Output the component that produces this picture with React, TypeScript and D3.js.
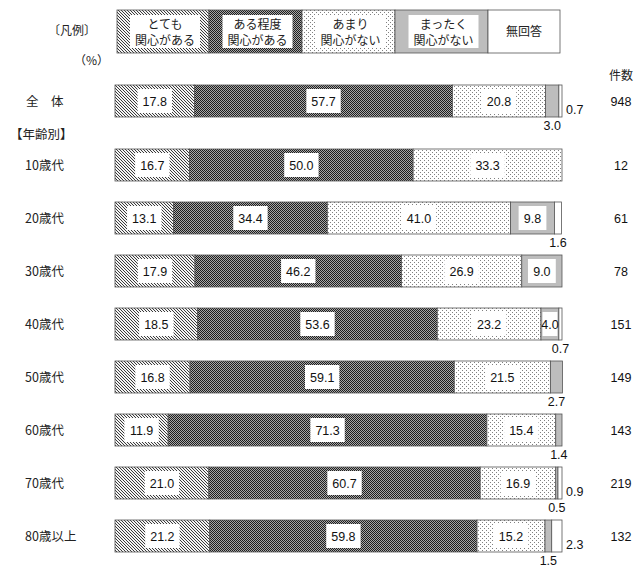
import React from "react";
import * as d3 from "d3";

const categories = ["全　体", "10歳代", "20歳代", "30歳代", "40歳代", "50歳代", "60歳代", "70歳代", "80歳以上"];
const veryInterested = [17.8, 16.7, 13.1, 17.9, 18.5, 16.8, 11.9, 21.0, 21.2];
const somewhatInterested = [57.7, 50.0, 34.4, 46.2, 53.6, 59.1, 71.3, 60.7, 59.8];
const notVery = [20.8, 33.3, 41.0, 26.9, 23.2, 21.5, 15.4, 16.9, 15.2];
const notAtAll = [3.0, 0, 9.8, 9.0, 4.0, 2.7, 1.4, 0.5, 1.5];
const noAnswer = [0.7, 0, 1.6, 0, 0.7, 0, 0, 0.9, 2.3];
const counts = [948, 12, 61, 78, 151, 149, 143, 219, 132];
const legendLabels = [["とても", "関心がある"], ["ある程度", "関心がある"], ["あまり", "関心がない"], ["まったく", "関心がない"], ["無回答"]];

const series = [veryInterested, somewhatInterested, notVery, notAtAll, noAnswer];
const fills = ["url(#pHatch)", "url(#pCheck)", "url(#pDots)", "#bdbdbd", "#ffffff"];

const JP = "'Noto Sans CJK JP', 'Noto Sans', sans-serif";
const NUM = "'Liberation Sans', Arial, sans-serif";

export default function App() {
  const x = d3.scaleLinear().domain([0, 100]).range([115, 562]);
  const barH = 32;
  const rowTop = (i: number) => (i === 0 ? 85 : 149 + (i - 1) * 53);
  const legendEdges = [117, 209, 302, 395, 488, 560];

  return (
    <svg width={635} height={567} style={{ display: "block", position: "absolute", left: 0, top: 0, background: "#fff" }}>
      <defs>
        <pattern id="pHatch" patternUnits="userSpaceOnUse" width={3} height={3}>
          <rect width={3} height={3} fill="#f4f4f4" shapeRendering="crispEdges" />
          <rect x={0} y={0} width={1} height={1} fill="#3a3a3a" shapeRendering="crispEdges" />
          <rect x={1} y={1} width={1} height={1} fill="#3a3a3a" shapeRendering="crispEdges" />
          <rect x={2} y={2} width={1} height={1} fill="#3a3a3a" shapeRendering="crispEdges" />
        </pattern>
        <pattern id="pCheck" patternUnits="userSpaceOnUse" width={2} height={2}>
          <rect width={2} height={2} fill="#a8a8a8" shapeRendering="crispEdges" />
          <rect x={0} y={0} width={1} height={1} fill="#1e1e1e" shapeRendering="crispEdges" />
          <rect x={1} y={1} width={1} height={1} fill="#1e1e1e" shapeRendering="crispEdges" />
        </pattern>
        <pattern id="pDots" patternUnits="userSpaceOnUse" width={4} height={4}>
          <rect width={4} height={4} fill="#fff" shapeRendering="crispEdges" />
          <rect x={0} y={0} width={1} height={1} fill="#808080" shapeRendering="crispEdges" />
          <rect x={2} y={2} width={1} height={1} fill="#808080" shapeRendering="crispEdges" />
        </pattern>
      </defs>

      {/* Legend */}
      <text x={48} y={35} fontFamily={JP} fontSize={12} fill="#222">〔凡例〕</text>
      {legendLabels.map((lines, k) => {
        const x0 = legendEdges[k];
        const x1 = legendEdges[k + 1];
        const w = x1 - x0;
        const cx = (x0 + x1) / 2;
        const innerW = k === 4 ? w - 2 : Math.min(70, w - 18);
        return (
          <g key={k}>
            <rect x={x0} y={10} width={w} height={43} fill={fills[k]} stroke="#555" strokeWidth={0.8} />
            <rect x={cx - innerW / 2 + (k === 4 ? 0 : 2)} y={k === 4 ? 11 : 15} width={innerW} height={k === 4 ? 41 : 33} fill="#fff" />
            {lines.length === 2 ? (
              <>
                <text x={cx + 2} y={29} textAnchor="middle" fontFamily={JP} fontSize={12} fill="#222">{lines[0]}</text>
                <text x={cx + 2} y={45} textAnchor="middle" fontFamily={JP} fontSize={12} fill="#222">{lines[1]}</text>
              </>
            ) : (
              <text x={cx} y={36} textAnchor="middle" fontFamily={JP} fontSize={12} fill="#222">{lines[0]}</text>
            )}
          </g>
        );
      })}

      <text x={74} y={65} fontFamily={JP} fontSize={12} fill="#222">（%）</text>
      <text x={621} y={80} textAnchor="middle" fontFamily={JP} fontSize={12} fill="#222">件数</text>
      <text x={10} y={139} fontFamily={JP} fontSize={12.5} fill="#222">【年齢別】</text>

      {categories.map((cat, i) => {
        const top = rowTop(i);
        const bottom = top + barH;
        let cum = 0;
        const segs = series.map((s, k) => {
          const v = s[i];
          const start = cum;
          cum += v;
          return { k, v, start, end: cum };
        });
        const small = segs.filter((s) => s.v > 0 && s.v < 3.5);
        const outside: { s: typeof segs[0]; pos: "below" | "right" }[] = [];
        if (small.length === 2) {
          outside.push({ s: small[0], pos: "below" });
          outside.push({ s: small[1], pos: "right" });
        } else if (small.length === 1) {
          outside.push({ s: small[0], pos: "below" });
        }
        return (
          <g key={cat}>
            <text x={i === 0 ? 26 : 25} y={top + 21} fontFamily={JP} fontSize={12.5} fill="#222">{cat}</text>
            {segs.filter((s) => s.v > 0).map((s) => (
              <rect key={s.k} x={x(s.start)} y={top} width={x(s.end) - x(s.start)} height={barH}
                fill={fills[s.k]} stroke="#555" strokeWidth={0.8} />
            ))}
            {segs.filter((s) => s.v >= 3.5).map((s) => {
              const label = s.v.toFixed(1);
              const segW = x(s.end) - x(s.start);
              const bw = Math.min(label.length * 6.6 + 8, segW - 3);
              const cx = (x(s.start) + x(s.end)) / 2;
              return (
                <g key={"l" + s.k}>
                  <rect x={cx - bw / 2} y={top + 4} width={bw} height={24} fill="#fff" />
                  <text x={cx} y={top + 20.5} textAnchor="middle" fontFamily={NUM} fontSize={12.5} fill="#111">{label}</text>
                </g>
              );
            })}
            {outside.map(({ s, pos }) => {
              const label = s.v.toFixed(1);
              const cx = (x(s.start) + x(s.end)) / 2;
              return pos === "below" ? (
                <text key={"o" + s.k} x={cx} y={bottom + 13} textAnchor="middle" fontFamily={NUM} fontSize={12.5} fill="#111">{label}</text>
              ) : (
                <text key={"o" + s.k} x={x(100) + 4} y={bottom - 3} fontFamily={NUM} fontSize={12.5} fill="#111">{label}</text>
              );
            })}
            <text x={621} y={top + 21} textAnchor="middle" fontFamily={NUM} fontSize={12.5} fill="#111">{counts[i]}</text>
          </g>
        );
      })}
    </svg>
  );
}
